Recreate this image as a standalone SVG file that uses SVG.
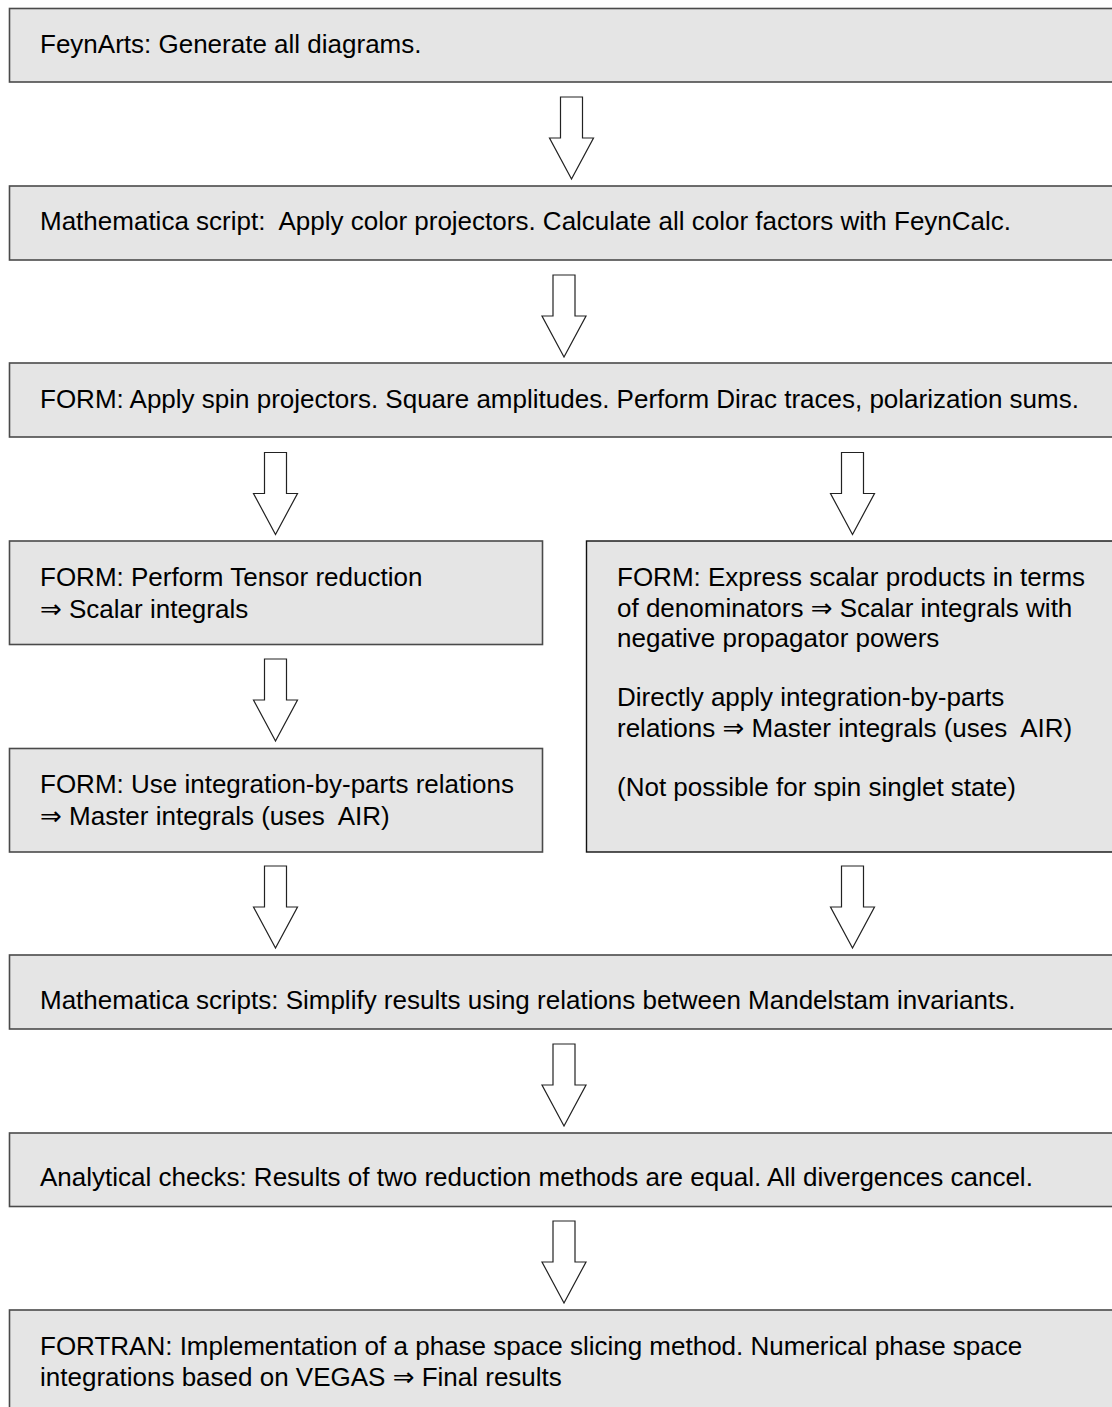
<svg xmlns="http://www.w3.org/2000/svg" width="1112" height="1407" viewBox="0 0 1112 1407">
<defs>
<style>
.box{fill:#e5e5e5;stroke:#4a4a4a;stroke-width:1.6}
.boxk{fill:#e5e5e5;stroke:#111;stroke-width:1.4}
.t{font-family:"Liberation Sans",Arial,"DejaVu Sans",sans-serif;font-size:26px;fill:#000}
.arr{fill:#fff;stroke:#222;stroke-width:1.2;stroke-linejoin:miter}
</style>
<path id="ar" d="M-11,0 H11 V41 H22 L0,82 L-22,41 H-11 Z"/>
</defs>
<rect width="1112" height="1407" fill="#fff"/>
<g id="n1"><rect class="box" x="9.5" y="8.5" width="1120" height="73.5"/><text class="t" x="40" y="53">FeynArts: Generate all diagrams.</text></g>
<g id="n2"><rect class="box" x="9.5" y="186" width="1120" height="74"/><text class="t" x="40" y="230" xml:space="preserve">Mathematica script:  Apply color projectors. Calculate all color factors with FeynCalc.</text></g>
<g id="n3"><rect class="box" x="9.5" y="363" width="1120" height="74"/><text class="t" x="40" y="408">FORM: Apply spin projectors. Square amplitudes. Perform Dirac traces, polarization sums.</text></g>
<g id="n4"><rect class="box" x="9.5" y="541" width="533" height="103.5"/><text class="t" x="40" y="586">FORM: Perform Tensor reduction</text><text class="t" x="40" y="618">⇒ Scalar integrals</text></g>
<g id="n5"><rect class="box" x="9.5" y="748.5" width="533" height="103.5"/><text class="t" x="40" y="793">FORM: Use integration-by-parts relations</text><text class="t" x="40" y="825" xml:space="preserve">⇒ Master integrals (uses  AIR)</text></g>
<g id="n6"><rect class="boxk" x="586.5" y="541" width="540" height="311"/>
<text class="t" x="617" y="586">FORM: Express scalar products in terms</text>
<text class="t" x="617" y="617">of denominators ⇒ Scalar integrals with</text>
<text class="t" x="617" y="647">negative propagator powers</text>
<text class="t" x="617" y="706">Directly apply integration-by-parts</text>
<text class="t" x="617" y="737" xml:space="preserve">relations ⇒ Master integrals (uses  AIR)</text>
<text class="t" x="617" y="796">(Not possible for spin singlet state)</text></g>
<g id="n7"><rect class="box" x="9.5" y="955" width="1120" height="74"/><text class="t" x="40" y="1009">Mathematica scripts: Simplify results using relations between Mandelstam invariants.</text></g>
<g id="n8"><rect class="box" x="9.5" y="1133" width="1120" height="73.5"/><text class="t" x="40" y="1186">Analytical checks: Results of two reduction methods are equal. All divergences cancel.</text></g>
<g id="n9"><rect class="box" x="9.5" y="1310" width="1120" height="110"/><text class="t" x="40" y="1355">FORTRAN: Implementation of a phase space slicing method. Numerical phase space</text><text class="t" x="40" y="1386">integrations based on VEGAS ⇒ Final results</text></g>
<g id="connectors">
<use href="#ar" class="arr" x="571.5" y="97"/>
<use href="#ar" class="arr" x="564" y="275"/>
<use href="#ar" class="arr" x="275.5" y="452.5"/>
<use href="#ar" class="arr" x="852.5" y="452.5"/>
<use href="#ar" class="arr" x="275.5" y="659"/>
<use href="#ar" class="arr" x="275.5" y="866"/>
<use href="#ar" class="arr" x="852.5" y="866"/>
<use href="#ar" class="arr" x="564" y="1044"/>
<use href="#ar" class="arr" x="564" y="1221"/>
</g>
</svg>
